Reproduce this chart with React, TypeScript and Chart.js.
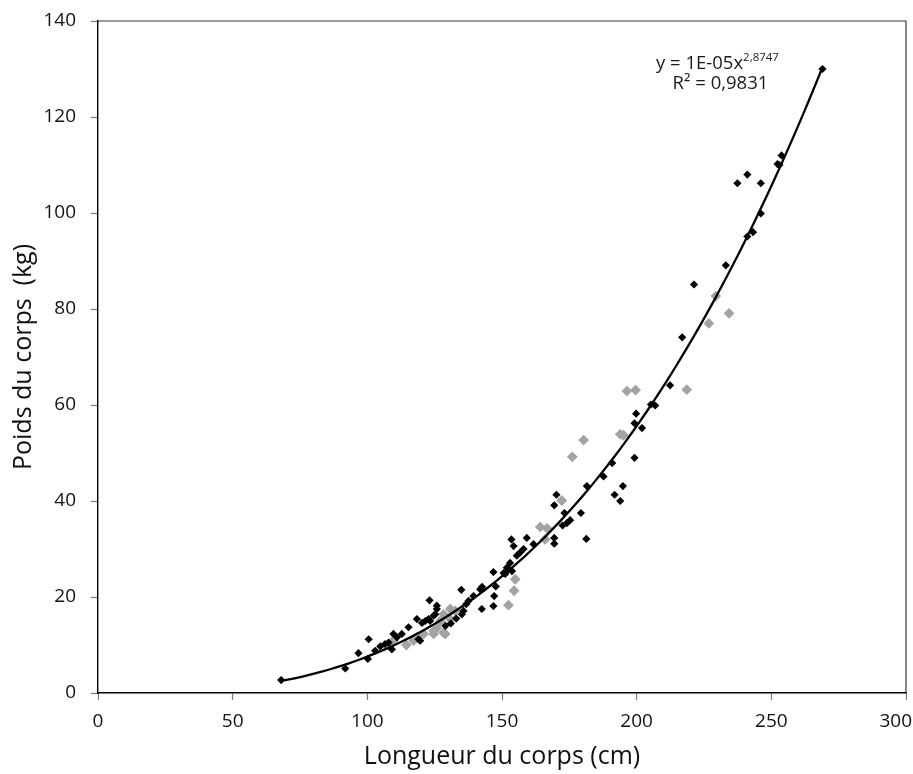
import React, { useEffect, useRef } from "react";
import { Chart, registerables } from "chart.js";

Chart.register(...registerables);

// ---- Data ----
const blackX = [
  269.0, 253.8, 252.3, 253.0, 241.1, 237.4, 246.1, 246.1, 243.2, 241.1,
  233.1, 221.3, 216.9, 212.4, 205.3, 206.9, 199.8, 199.2, 202.0, 199.2,
  190.9, 187.7, 194.9, 191.8, 193.9, 181.5, 170.2, 169.4, 179.3, 173.2,
  175.3, 174.1, 172.5, 169.4, 169.4, 181.3, 159.2, 153.5, 154.3, 161.7,
  158.0, 156.8, 155.5, 153.0, 151.8, 152.4, 153.7, 146.8, 150.6, 151.2,
  147.7, 142.6, 141.9, 134.9, 147.1, 139.4, 146.8, 142.5, 137.6, 136.7,
  135.7, 135.1, 125.8, 124.6, 123.3, 123.1, 125.8, 125.2, 120.3, 121.5,
  122.7, 118.4, 119.0, 119.6, 115.3, 112.8, 109.7, 111.0, 109.1, 106.6,
  107.9, 104.8, 102.9, 100.5, 100.2, 96.7, 91.8, 68.0, 131.0, 133.0,
  129.0,
];
const blackY = [
  130.0, 112.0, 110.2, 110.0, 108.0, 106.2, 106.2, 99.9, 96.0, 95.1,
  89.1, 85.1, 74.1, 64.1, 60.1, 59.9, 58.2, 56.2, 55.2, 49.0,
  47.9, 45.1, 43.1, 41.3, 40.0, 43.1, 41.3, 39.1, 37.5, 37.5,
  36.0, 35.4, 34.9, 32.3, 31.1, 32.1, 32.3, 32.0, 30.6, 31.0,
  30.0, 29.3, 28.6, 27.1, 26.1, 25.8, 25.4, 25.2, 25.0, 24.8,
  22.2, 22.1, 21.6, 21.5, 20.2, 20.2, 18.1, 17.5, 19.2, 18.5,
  17.1, 16.4, 17.5, 16.1, 15.0, 19.3, 18.2, 16.4, 14.6, 15.0,
  15.4, 15.4, 11.2, 10.9, 13.7, 12.3, 12.3, 11.6, 9.1, 10.2,
  10.5, 9.7, 8.8, 11.2, 7.1, 8.3, 5.1, 2.7, 14.5, 15.5,
  14.0,
];
const grayX = [
  196.4, 199.6, 218.6, 193.9, 195.1, 180.3, 176.1, 172.2, 164.2, 166.7,
  166.0, 154.9, 154.5, 152.4, 229.4, 234.3, 226.8, 130.8, 132.6, 128.3,
  127.1, 125.8, 128.3, 128.9, 130.8, 108.5, 109.6, 114.5, 117.2, 118.4,
  120.9, 124.6, 124.6,
];
const grayY = [
  62.9, 63.1, 63.2, 53.9, 53.7, 52.7, 49.2, 40.1, 34.6, 34.3,
  32.0, 23.7, 21.3, 18.3, 82.7, 79.1, 77.0, 17.5, 17.1, 16.4,
  15.0, 13.6, 12.6, 12.3, 15.4, 10.2, 10.9, 10.0, 10.9, 11.6,
  12.3, 12.9, 12.3,
];

const xTicks = [0, 50, 100, 150, 200, 250, 300];
const yTicks = [0, 20, 40, 60, 80, 100, 120, 140];
const xTitle = "Longueur du corps (cm)";
const yTitle = "Poids du corps  (kg)";
const eqMain = "y = 1E-05x";
const eqExp = "2,8747";
const eqR2 = "R² = 0,9831";

// Power trendline y = coef * x^exp (exponent from the label, coefficient)
const trendCoef = 1.35e-5;
const trendExp = 2.8747;

const FONT = "'Open Sans', 'Noto Sans', sans-serif";

export default function App() {
  const ref = useRef<HTMLCanvasElement | null>(null);

  useEffect(() => {
    document.body.style.margin = "0";
    const canvas = ref.current;
    if (!canvas) return;

    const allX = blackX.concat(grayX);
    const xmin = Math.min(...allX);
    const xmax = Math.max(...allX);
    const trend: { x: number; y: number }[] = [];
    const N = 80;
    for (let i = 0; i <= N; i++) {
      const x = xmin + ((xmax - xmin) * i) / N;
      trend.push({ x, y: trendCoef * Math.pow(x, trendExp) });
    }

    const framePlugin = {
      id: "frame",
      beforeDatasetsDraw(chart: any) {
        const { ctx, chartArea } = chart;
        ctx.save();
        ctx.strokeStyle = "#3a3a3a";
        ctx.lineWidth = 1.2;
        ctx.beginPath();
        ctx.moveTo(chartArea.left, chartArea.top);
        ctx.lineTo(chartArea.right, chartArea.top);
        ctx.lineTo(chartArea.right, chartArea.bottom);
        ctx.stroke();
        ctx.restore();
      },
      afterDraw(chart: any) {
        const { ctx, chartArea, width } = chart;
        const xs = chart.scales.x;
        const ys = chart.scales.y;
        ctx.save();
        // x tick labels (kept inside the canvas like the reference's last label)
        ctx.fillStyle = "#111";
        ctx.font = `19px ${FONT}`;
        ctx.textBaseline = "middle";
        ctx.textAlign = "center";
        for (const v of xTicks) {
          const label = String(v);
          const w = ctx.measureText(label).width;
          let px = xs.getPixelForValue(v);
          px = Math.min(px, width - 1 - w / 2);
          ctx.fillText(label, px, chartArea.bottom + 29);
        }

        // trendline equation
        ctx.fillStyle = "#1a1a1a";
        const mainFont = `18.5px ${FONT}`;
        const supFont = `11.5px ${FONT}`;
        ctx.font = mainFont;
        const w1 = ctx.measureText(eqMain).width;
        ctx.font = supFont;
        const w2 = ctx.measureText(eqExp).width;
        const cx = xs.getPixelForValue(230.0);
        const y1 = ys.getPixelForValue(131.2);
        const startX = cx - (w1 + w2) / 2;
        ctx.textAlign = "left";
        ctx.font = mainFont;
        ctx.fillText(eqMain, startX, y1);
        ctx.font = supFont;
        ctx.fillText(eqExp, startX + w1, y1 - 6);
        ctx.font = mainFont;
        ctx.textAlign = "center";
        const y2 = ys.getPixelForValue(127.0);
        ctx.fillText(eqR2, cx + 3, y2);
        ctx.restore();
      },
    };

    const chart = new Chart(canvas, {
      type: "scatter",
      data: {
        datasets: [
          {
            type: "line",
            label: "trend",
            data: trend,
            borderColor: "#000",
            borderWidth: 2.3,
            pointRadius: 0,
            fill: false,
            tension: 0,
          } as any,
          {
            label: "black",
            data: blackX.map((x, i) => ({ x, y: blackY[i] })),
            pointStyle: "rectRot",
            pointRadius: 4.1,
            backgroundColor: "#000",
            borderColor: "#000",
            borderWidth: 0,
          },
          {
            label: "gray",
            data: grayX.map((x, i) => ({ x, y: grayY[i] })),
            pointStyle: "rectRot",
            pointRadius: 5.4,
            backgroundColor: "#a3a3a3",
            borderColor: "#a3a3a3",
            borderWidth: 0,
          },
        ],
      },
      options: {
        responsive: false,
        animation: false,
        layout: { padding: { top: 21, right: 7, bottom: 0, left: 0 } },
        plugins: {
          legend: { display: false },
          tooltip: { enabled: false },
        },
        scales: {
          x: {
            type: "linear",
            min: 0,
            max: 300,
            afterBuildTicks: (s: any) => {
              s.ticks = xTicks.map((v) => ({ value: v }));
            },
            afterFit: (s: any) => {
              s.height = 81;
              s.paddingLeft = 0;
              s.paddingRight = 0;
            },
            grid: {
              display: true,
              drawOnChartArea: false,
              drawTicks: true,
              tickLength: 7,
              tickColor: "#7a7a7a",
              tickWidth: 1.2,
            },
            border: { display: true, color: "#000", width: 1.4 },
            ticks: {
              display: false,
              autoSkip: false,
            },
            title: {
              display: true,
              text: xTitle,
              color: "#111",
              font: { family: FONT, size: 25 },
              padding: { top: 0, bottom: 2 },
            },
          },
          y: {
            type: "linear",
            min: 0,
            max: 140,
            afterBuildTicks: (s: any) => {
              s.ticks = yTicks.map((v) => ({ value: v }));
            },
            afterFit: (s: any) => {
              s.width = 98;
              s.paddingTop = 0;
              s.paddingBottom = 0;
            },
            grid: {
              display: true,
              drawOnChartArea: false,
              drawTicks: true,
              tickLength: 7,
              tickColor: "#7a7a7a",
              tickWidth: 1.2,
            },
            border: { display: true, color: "#000", width: 1.4 },
            ticks: {
              color: "#111",
              font: { family: FONT, size: 19 },
              padding: 15,
              autoSkip: false,
            },
            title: {
              display: true,
              text: yTitle,
              color: "#111",
              font: { family: FONT, size: 25 },
              padding: { top: 9, bottom: 0 },
            },
          },
        },
      },
      plugins: [framePlugin],
    });

    return () => chart.destroy();
  }, []);

  return (
    <div style={{ position: "fixed", left: 0, top: 0, width: 913, height: 774 }}>
      <canvas ref={ref} width={913} height={774} style={{ width: 913, height: 774, display: "block" }} />
    </div>
  );
}
